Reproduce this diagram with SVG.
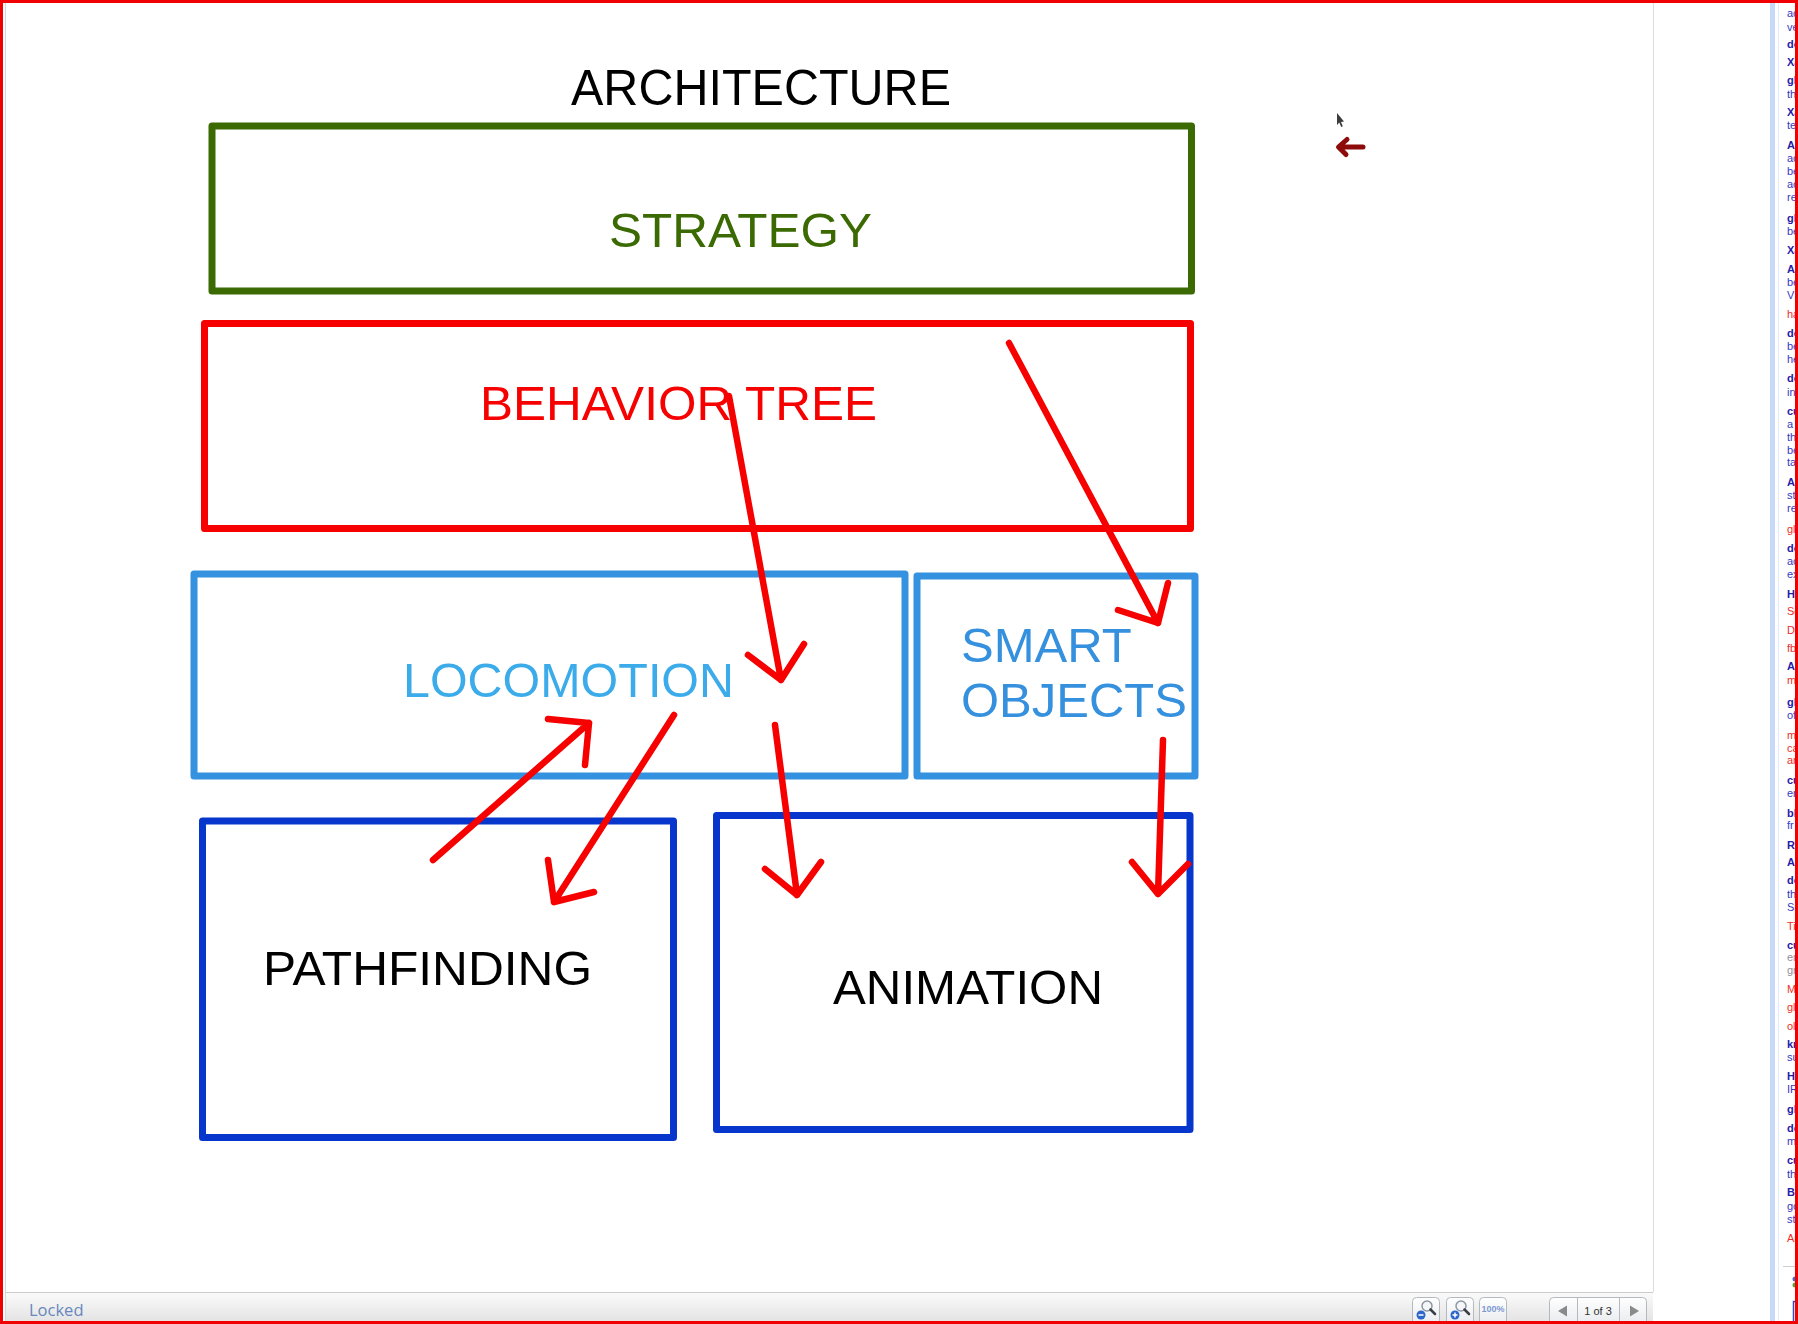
<svg xmlns="http://www.w3.org/2000/svg" width="1798" height="1324" viewBox="0 0 1798 1324">
<defs>
<style>
.lbl{font-family:"Liberation Sans",Arial,sans-serif;font-size:49px}
.box{fill:none;stroke-width:7;stroke-linejoin:round}
.arr{fill:none;stroke:#f60000;stroke-width:6.5;stroke-linecap:round;stroke-linejoin:round}
.st{font-family:"Liberation Sans",Arial,sans-serif;font-size:11px}
.b{font-weight:bold;fill:#1d22a8}
.n{fill:#2e3cc4}
.r{fill:#e8302c}
.g{fill:#8a8f9e}
.btn{fill:url(#btng);stroke:#b4b8bf;stroke-width:1}
</style>
<linearGradient id="tbg" x1="0" y1="0" x2="0" y2="1">
<stop offset="0" stop-color="#fbfbfb"/><stop offset="1" stop-color="#e3e3e3"/>
</linearGradient>
<linearGradient id="btng" x1="0" y1="0" x2="0" y2="1">
<stop offset="0" stop-color="#ffffff"/><stop offset="1" stop-color="#e6e8ec"/>
</linearGradient>
<clipPath id="stripclip"><rect x="1779" y="3" width="16.5" height="1318"/></clipPath>
</defs>
<rect x="0" y="0" width="1798" height="1324" fill="#ffffff"/>
<line x1="5.5" y1="3" x2="5.5" y2="1321" stroke="#d8d8d8" stroke-width="1"/>
<line x1="1653.5" y1="3" x2="1653.5" y2="1292" stroke="#dcdcdc" stroke-width="1"/>
<rect x="1770" y="3" width="5" height="1318" fill="#c6d9f7"/>
<line x1="1778.5" y1="3" x2="1778.5" y2="1321" stroke="#e2ebf9" stroke-width="1"/>

<g id="strip" clip-path="url(#stripclip)" class="st">
<text x="1787" y="17" class="n">ac</text>
<text x="1787" y="31" class="n">ve</text>
<text x="1787" y="48" class="b">de</text>
<text x="1787" y="66" class="b">Xa</text>
<text x="1787" y="84" class="b">gl</text>
<text x="1787" y="98" class="n">th</text>
<text x="1787" y="116" class="b">Xa</text>
<text x="1787" y="129" class="n">te</text>
<text x="1787" y="149" class="b">A</text>
<text x="1787" y="162" class="n">ac</text>
<text x="1787" y="175" class="n">be</text>
<text x="1787" y="188" class="n">ac</text>
<text x="1787" y="201" class="n">re</text>
<text x="1787" y="222" class="b">gl</text>
<text x="1787" y="235" class="n">be</text>
<text x="1787" y="254" class="b">Xa</text>
<text x="1787" y="273" class="b">A</text>
<text x="1787" y="286" class="n">be</text>
<text x="1787" y="299" class="n">V</text>
<text x="1787" y="318" class="r">ha</text>
<text x="1787" y="337" class="b">de</text>
<text x="1787" y="350" class="n">be</text>
<text x="1787" y="363" class="n">he</text>
<text x="1787" y="382" class="b">de</text>
<text x="1787" y="396" class="n">in</text>
<text x="1787" y="415" class="b">cu</text>
<text x="1787" y="428" class="n">a</text>
<text x="1787" y="441" class="n">th</text>
<text x="1787" y="454" class="n">be</text>
<text x="1787" y="466" class="n">ta</text>
<text x="1787" y="486" class="b">A</text>
<text x="1787" y="499" class="n">st</text>
<text x="1787" y="512" class="n">re</text>
<text x="1787" y="533" class="r">gl</text>
<text x="1787" y="552" class="b">de</text>
<text x="1787" y="565" class="n">ac</text>
<text x="1787" y="578" class="n">ex</text>
<text x="1787" y="598" class="b">Ha</text>
<text x="1787" y="615" class="r">Se</text>
<text x="1787" y="634" class="r">Da</text>
<text x="1787" y="652" class="r">fb</text>
<text x="1787" y="670" class="b">A</text>
<text x="1787" y="684" class="r">m</text>
<text x="1787" y="706" class="b">gl</text>
<text x="1787" y="719" class="n">of</text>
<text x="1787" y="739" class="r">m</text>
<text x="1787" y="752" class="r">ca</text>
<text x="1787" y="764" class="r">an</text>
<text x="1787" y="784" class="b">cu</text>
<text x="1787" y="797" class="n">en</text>
<text x="1787" y="817" class="b">bl</text>
<text x="1787" y="829" class="n">fr</text>
<text x="1787" y="849" class="b">Ri</text>
<text x="1787" y="866" class="b">A</text>
<text x="1787" y="884" class="b">de</text>
<text x="1787" y="898" class="n">th</text>
<text x="1787" y="911" class="n">Sr</text>
<text x="1787" y="930" class="r">Ti</text>
<text x="1787" y="949" class="b">cu</text>
<text x="1787" y="961" class="g">en</text>
<text x="1787" y="974" class="g">gr</text>
<text x="1787" y="993" class="r">Ma</text>
<text x="1787" y="1011" class="r">gl</text>
<text x="1787" y="1030" class="r">ol</text>
<text x="1787" y="1048" class="b">kn</text>
<text x="1787" y="1061" class="n">su</text>
<text x="1787" y="1080" class="b">Ha</text>
<text x="1787" y="1093" class="n">IR</text>
<text x="1787" y="1113" class="b">gl</text>
<text x="1787" y="1132" class="b">de</text>
<text x="1787" y="1145" class="n">m</text>
<text x="1787" y="1164" class="b">cu</text>
<text x="1787" y="1178" class="n">th</text>
<text x="1787" y="1196" class="b">Bl</text>
<text x="1787" y="1210" class="n">go</text>
<text x="1787" y="1223" class="n">st</text>
<text x="1787" y="1242" class="r">Ar</text>
<line x1="1783" y1="1266.5" x2="1798" y2="1266.5" stroke="#cfcfcf" stroke-width="1"/>
<circle cx="1795" cy="1279" r="2.5" fill="#3b6fd0"/>
<circle cx="1795" cy="1285" r="2.5" fill="#4aa83a"/>
<rect x="1793.5" y="1301.5" width="12" height="30" fill="#ffffff" stroke="#2c4cc0" stroke-width="1.5"/>
</g>

<g id="toolbar">
<rect x="6" y="1292" width="1647" height="30" fill="url(#tbg)"/>
<line x1="6" y1="1292.5" x2="1653" y2="1292.5" stroke="#cccccc" stroke-width="1"/>
<text x="29" y="1316" font-family="'Open Sans','Liberation Sans',sans-serif" font-size="16.5" fill="#6787bd">Locked</text>
<rect x="1412.5" y="1297.5" width="27" height="30" rx="4" class="btn"/>
<circle cx="1427" cy="1306" r="5" fill="#f4f6fa" stroke="#8e96a3" stroke-width="1.5"/>
<line x1="1430.5" y1="1309.5" x2="1435" y2="1314" stroke="#3a3f48" stroke-width="2.5" stroke-linecap="round"/>
<circle cx="1421" cy="1315" r="4.5" fill="#2c66c8"/>
<line x1="1418.5" y1="1315" x2="1423.5" y2="1315" stroke="#ffffff" stroke-width="1.5"/>
<rect x="1446.5" y="1297.5" width="27" height="30" rx="4" class="btn"/>
<circle cx="1461" cy="1306" r="5" fill="#f4f6fa" stroke="#8e96a3" stroke-width="1.5"/>
<line x1="1464.5" y1="1309.5" x2="1469" y2="1314" stroke="#3a3f48" stroke-width="2.5" stroke-linecap="round"/>
<circle cx="1455" cy="1315" r="4.5" fill="#2c66c8"/>
<line x1="1452.5" y1="1315" x2="1457.5" y2="1315" stroke="#ffffff" stroke-width="1.5"/>
<line x1="1455" y1="1312.5" x2="1455" y2="1317.5" stroke="#ffffff" stroke-width="1.5"/>
<rect x="1479.5" y="1297.5" width="27" height="30" rx="4" class="btn"/>
<text x="1493" y="1312" text-anchor="middle" font-family="'Liberation Sans',sans-serif" font-size="9" font-weight="bold" fill="#7d9ad0">100%</text>
<rect x="1549.5" y="1297.5" width="97" height="30" rx="4" class="btn"/>
<line x1="1577.5" y1="1298" x2="1577.5" y2="1322" stroke="#b4b8bf" stroke-width="1"/>
<line x1="1619.5" y1="1298" x2="1619.5" y2="1322" stroke="#b4b8bf" stroke-width="1"/>
<polygon points="1558,1311 1567,1305.5 1567,1316.5" fill="#8a8a8a"/>
<polygon points="1639,1311 1630,1305.5 1630,1316.5" fill="#8a8a8a"/>
<text x="1598" y="1315" text-anchor="middle" font-family="'Liberation Sans',sans-serif" font-size="11" fill="#333333">1 of 3</text>
</g>

<g id="title">
<text x="571" y="105" font-family="'Liberation Sans',Arial,sans-serif" font-size="50" textLength="380" lengthAdjust="spacingAndGlyphs" fill="#000000">ARCHITECTURE</text>
</g>

<g id="strategy">
<rect x="212" y="126" width="979.5" height="165" class="box" stroke="#3b6a02"/>
<text x="609" y="247" class="lbl" fill="#3b6a02" textLength="263" lengthAdjust="spacingAndGlyphs">STRATEGY</text>
</g>

<g id="behavior-tree">
<rect x="204.5" y="323.5" width="986" height="205" class="box" stroke="#f60000"/>
<text x="480" y="419.5" class="lbl" fill="#f60000" textLength="397" lengthAdjust="spacingAndGlyphs">BEHAVIOR TREE</text>
</g>

<g id="locomotion">
<rect x="194" y="574" width="711" height="202" class="box" stroke="#3592e0"/>
<text x="403" y="697" class="lbl" fill="#3cabea" textLength="331" lengthAdjust="spacingAndGlyphs">LOCOMOTION</text>
</g>

<g id="smart-objects">
<rect x="917" y="576" width="278" height="200" class="box" stroke="#3592e0"/>
<text x="961" y="662" class="lbl" fill="#3590de">SMART</text>
<text x="961" y="717" class="lbl" fill="#3590de">OBJECTS</text>
</g>

<g id="pathfinding">
<rect x="202.5" y="821" width="471" height="316.5" class="box" stroke="#0636cc"/>
<text x="263" y="985" class="lbl" fill="#000000" textLength="329" lengthAdjust="spacingAndGlyphs">PATHFINDING</text>
</g>

<g id="animation">
<rect x="716.5" y="815.5" width="473.5" height="314" class="box" stroke="#0636cc"/>
<text x="833" y="1004" class="lbl" fill="#000000" textLength="270" lengthAdjust="spacingAndGlyphs">ANIMATION</text>
</g>

<g id="connectors">
<path class="arr" d="M729,396 L781,680 M748,655 L781,680 L804,644"/>
<path class="arr" d="M1009,343 L1158,623 M1118,610 L1158,623 L1168,583"/>
<path class="arr" d="M433,860 L589,723 M548,719 L589,723 L585,765"/>
<path class="arr" d="M674,715 L554,902 M548,860 L554,902 L594,892"/>
<path class="arr" d="M775,725 L797,895 M765,869 L797,895 L821,862"/>
<path class="arr" d="M1163,740 L1158,894 M1132,862 L1158,894 L1188,864"/>
</g>

<g id="pointer">
<path d="M1363,147 L1340,147 M1347,139.5 L1338.5,147 L1346,154.5" fill="none" stroke="#8e0b0b" stroke-width="5" stroke-linecap="round" stroke-linejoin="round"/>
<polygon points="1337,113 1337,125 1339.3,122.6 1341.2,127 1342.8,126.3 1341,122 1344,121.6" fill="#3c3c3c"/>
</g>

<rect x="1.5" y="1.5" width="1795" height="1321" fill="none" stroke="#f00000" stroke-width="3"/>
</svg>
